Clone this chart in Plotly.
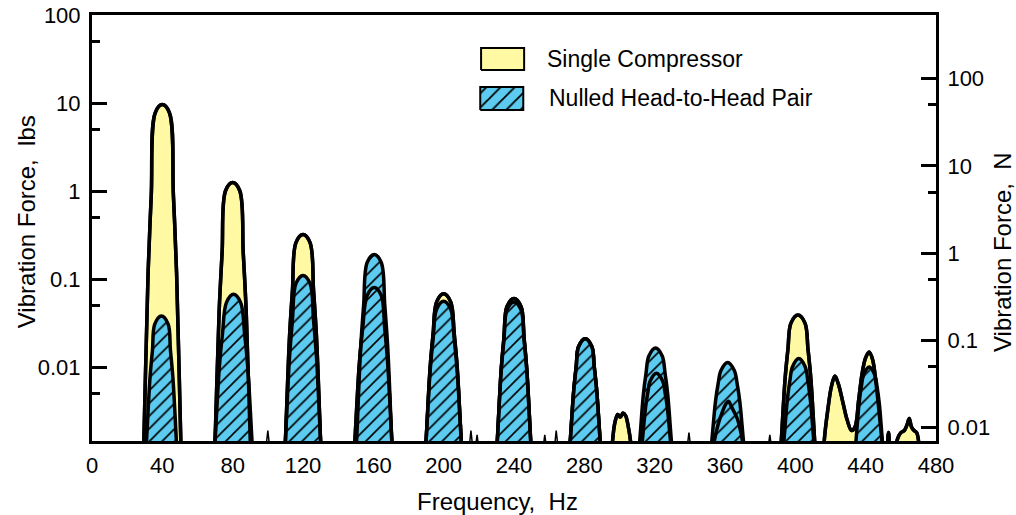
import plotly.graph_objects as go

# ---------------- data ----------------
# Single compressor (yellow), frequency in Hz, force in lbs
single_freq = [
    27.4, 29.5, 31.9, 33.7, 36, 40, 44, 46.3, 48.1, 50.5, 52.6,
    68, 70, 72.3, 74, 76, 80, 84, 86, 87.7, 90, 92,
    108, 110, 112.3, 114, 116, 120, 124, 126, 127.7, 130, 132,
    147.3, 149.5, 152.0, 153.9, 156.5, 160.5, 164.5, 166.5, 168.2, 170.5, 172.5,
    188, 190, 192.3, 194, 196, 200, 204, 206, 207.7, 210, 212,
    228.6, 230.5, 232.7, 234.3, 236, 240, 244, 245.7, 247.3, 249.5, 251.4,
    270.3, 272, 274, 275.4, 276.7, 280.5, 284.3, 285.6, 287, 289, 290.7,
    294, 296, 297.5, 299, 300.5, 302, 303.5, 305, 306.5, 308.5,
    311.4, 313, 314.84, 316.2, 317.4, 321, 324.6, 325.8, 327.16, 329, 330.6,
    350.5, 353, 356, 358.5, 360.5, 362, 363.5, 365.5, 367, 368.5, 370, 372.5,
    390.1, 392, 394.2, 395.8, 397.5, 401.5, 405.5, 407.2, 408.8, 411, 412.9,
    414.5, 416.5, 418.5, 420.5, 422.5, 424.5, 427, 429.5, 432, 434, 436, 438,
    440, 442, 444, 446, 448, 450, 451.5, 453, 454.5, 456.5, 458, 460, 462,
    463.5, 464.8, 466, 467.5, 469, 470.5, 472,
]
single_lbs = [
    4.3e-5, 0.00145, 0.1178, 0.891, 7.79, 9.6, 7.79, 0.891, 0.1178, 0.00145, 4.3e-5,
    9.7e-5, 0.00145, 0.0425, 0.2014, 1.014, 1.25, 1.014, 0.2014, 0.0425, 0.00145, 9.7e-5,
    1.67e-4, 0.00145, 0.0215, 0.0745, 0.2595, 0.32, 0.2595, 0.0745, 0.0215, 0.00145, 1.67e-4,
    2.9e-4, 0.00145, 0.01075, 0.0270, 0.0649, 0.08, 0.0649, 0.0270, 0.01075, 0.00145, 2.9e-4,
    3.1e-4, 0.00145, 0.00992, 0.0240, 0.0551, 0.068, 0.0551, 0.0240, 0.00992, 0.00145, 3.1e-4,
    3.3e-4, 0.00145, 0.0093, 0.0219, 0.0487, 0.06, 0.0487, 0.0219, 0.0093, 0.00145, 3.3e-4,
    5e-4, 0.00145, 0.0055, 0.0102, 0.0170, 0.021, 0.0170, 0.0102, 0.0055, 0.00145, 5e-4,
    1e-4, 0.0014, 0.0024, 0.0029, 0.0027, 0.0030, 0.0028, 0.0021, 0.0013, 1e-4,
    7.1e-4, 0.00145, 0.0035, 0.00527, 0.0069, 0.0085, 0.0069, 0.00527, 0.0035, 0.00145, 7.1e-4,
    1e-4, 0.0011, 0.0022, 0.0031, 0.0038, 0.0041, 0.0036, 0.0030, 0.0026, 0.0020, 0.0014, 1e-4,
    3.9e-4, 0.00145, 0.0075, 0.016, 0.0316, 0.039, 0.0316, 0.016, 0.0075, 0.00145, 3.9e-4,
    2e-4, 0.0015, 0.0033, 0.0060, 0.0079, 0.0064, 0.0040, 0.0025, 0.0019, 0.0021, 0.0042, 0.0085,
    0.0128, 0.0148, 0.0120, 0.0062, 0.0026, 0.0011, 0.0008, 0.0018, 0.0008, 0.0009, 0.0015, 0.0018, 0.0019,
    0.0022, 0.0026, 0.0021, 0.0019, 0.0018, 0.0012, 2e-4,
]

# Nulled head-to-head pair (blue hatched)
nulled_freq = [
    29.3, 31, 32.95, 34.4, 35.7, 39.5, 43.3, 44.6, 46.05, 48, 49.7,
    67.9, 70, 72.4, 74.2, 76.5, 80.5, 84.5, 86.8, 88.6, 91, 93.1,
    108, 110, 112.3, 114, 116, 120, 124, 126, 127.7, 130, 132,
    148.5, 150.5, 152.8, 154.5, 156.5, 160.5, 164.5, 166.5, 168.2, 170.5, 172.5,
    188, 190, 192.3, 194, 196, 200, 204, 206, 207.7, 210, 212,
    228.6, 230.5, 232.7, 234.3, 236, 240, 244, 245.7, 247.3, 249.5, 251.4,
    270.3, 272, 274, 275.4, 276.7, 280.5, 284.3, 285.6, 287, 289, 290.7,
    309.7, 311.5, 313.57, 315.1, 316.7, 320.5, 324.3, 325.9, 327.43, 329.5, 331.3,
    350.7, 352.5, 354.57, 356.1, 357.7, 361.5, 365.3, 366.9, 368.43, 370.5, 372.3,
    391.8, 393.5, 395.45, 396.9, 398.4, 402, 405.6, 407.1, 408.55, 410.5, 412.2,
    433, 434.5, 436.22, 437.5, 438.8, 442, 445.2, 446.5, 447.78, 449.5, 451,
]
nulled_lbs = [
    3.9e-4, 0.00145, 0.0074, 0.0157, 0.0308, 0.038, 0.0308, 0.0157, 0.0074, 0.00145, 3.9e-4,
    3.1e-4, 0.00145, 0.00984, 0.0238, 0.0543, 0.067, 0.0543, 0.0238, 0.00984, 0.00145, 3.1e-4,
    2.55e-4, 0.00145, 0.0126, 0.0341, 0.0892, 0.11, 0.0892, 0.0341, 0.0126, 0.00145, 2.55e-4,
    2.05e-4, 0.00145, 0.0166, 0.0509, 0.154, 0.19, 0.154, 0.0509, 0.0166, 0.00145, 2.05e-4,
    3.35e-4, 0.00145, 0.009, 0.02087, 0.0454, 0.056, 0.0454, 0.02087, 0.009, 0.00145, 3.35e-4,
    3.4e-4, 0.00145, 0.00892, 0.0206, 0.0446, 0.055, 0.0446, 0.0206, 0.00892, 0.00145, 3.4e-4,
    5e-4, 0.00145, 0.0055, 0.0102, 0.0170, 0.021, 0.0170, 0.0102, 0.0055, 0.00145, 5e-4,
    5.5e-4, 0.00145, 0.00488, 0.00855, 0.01338, 0.0165, 0.01338, 0.00855, 0.00488, 0.00145, 5.5e-4,
    6.4e-4, 0.00145, 0.00404, 0.00649, 0.00916, 0.0113, 0.00916, 0.00649, 0.00404, 0.00145, 6.4e-4,
    6.1e-4, 0.00145, 0.00425, 0.00698, 0.0101, 0.0125, 0.0101, 0.00698, 0.00425, 0.00145, 6.1e-4,
    6.7e-4, 0.00145, 0.0038, 0.00593, 0.0081, 0.0100, 0.0081, 0.00593, 0.0038, 0.00145, 6.7e-4,
]

# tiny noise spikes (white), separated by gaps
spike_freq = [98.7, 100, 101.3, None, 214.3, 215.5, 216.8, None, 217.8, 219, 220.2, None,
              256.3, 257.5, 258.8, None, 262.8, 264, 265.3, None, 338.2, 339.5, 340.8, None,
              384.2, 385.5, 386.8]
spike_lbs = [0.0011, 0.0019, 0.0011, None, 0.0011, 0.0019, 0.0011, None, 0.0011, 0.0017, 0.0011, None,
             0.0011, 0.0017, 0.0011, None, 0.0011, 0.0019, 0.0011, None, 0.0011, 0.0018, 0.0011, None,
             0.0011, 0.0017, 0.0011]

x_ticks = [0, 40, 80, 120, 160, 200, 240, 280, 320, 360, 400, 440, 480]
lbs_ticks = [0.01, 0.1, 1, 10, 100]
lbs_minor = [0.005, 0.05, 0.5, 5, 50]
n_ticks = [0.01, 0.1, 1, 10, 100]
n_minor = [0.05, 0.5, 5, 50]
tick_text = ["0.01", "0.1", "1", "10", "100"]
series_names = ["Single Compressor", "Nulled Head-to-Head Pair"]

YELLOW = "#FFF9A3"
BLUE = "#5CCBEF"
FONT = "Liberation Sans, Arial, sans-serif"
LW = 3.5
SPL = dict(color="black", width=LW, shape="spline", smoothing=1.0)

fig = go.Figure()

# fills
fig.add_trace(go.Scatter(x=single_freq, y=single_lbs, mode="lines", fill="toself",
                         fillcolor=YELLOW, line=SPL, showlegend=False, hoverinfo="skip"))
fig.add_trace(go.Scatter(x=spike_freq, y=spike_lbs, mode="lines", fill="toself",
                         fillcolor="white", line=dict(color="black", width=1.5),
                         showlegend=False, hoverinfo="skip"))
fig.add_trace(go.Scatter(x=nulled_freq, y=nulled_lbs, mode="lines", fill="toself",
                         fillcolor=BLUE,
                         fillpattern=dict(shape="/", fgcolor="black", bgcolor=BLUE, size=9,
                                          solidity=0.18, fillmode="replace"),
                         line=SPL, showlegend=False, hoverinfo="skip"))
# yellow outline on top (visible where nulled exceeds single)
fig.add_trace(go.Scatter(x=single_freq, y=single_lbs, mode="lines", line=SPL,
                         showlegend=False, hoverinfo="skip"))
# right axis carrier
fig.add_trace(go.Scatter(x=[None], y=[None], yaxis="y2", showlegend=False))

# legend swatches on an overlay unit axis
fig.add_trace(go.Scatter(x=[0.461, 0.512, 0.512, 0.461, 0.461], y=[0.871, 0.871, 0.9225, 0.9225, 0.871],
                         xaxis="x3", yaxis="y3", mode="lines", fill="toself", fillcolor=YELLOW,
                         line=dict(color="black", width=2), showlegend=False, hoverinfo="skip"))
fig.add_trace(go.Scatter(x=[0.460, 0.511, 0.511, 0.460, 0.460], y=[0.777, 0.777, 0.831, 0.831, 0.777],
                         xaxis="x3", yaxis="y3", mode="lines", fill="toself", fillcolor=BLUE,
                         fillpattern=dict(shape="/", fgcolor="black", bgcolor=BLUE, size=10,
                                          solidity=0.18, fillmode="replace"),
                         line=dict(color="black", width=2), showlegend=False, hoverinfo="skip"))

ann = [
    dict(text=series_names[0], x=0.537, y=0.897, xanchor="left", yanchor="middle", size=23),
    dict(text=series_names[1], x=0.539, y=0.805, xanchor="left", yanchor="middle", size=23),
    dict(text="Frequency,\u00a0\u00a0Hz", x=0.481, y=-0.141, xanchor="center", yanchor="middle", size=24),
    dict(text="Vibration Force,\u00a0\u00a0lbs", x=-0.078, y=0.514, xanchor="center", yanchor="middle",
         textangle=-90, size=24),
    dict(text="Vibration Force,\u00a0\u00a0N", x=1.0794, y=0.4437, xanchor="center", yanchor="middle",
         textangle=-90, size=24),
]
for a in ann:
    s = a.pop("size")
    a.update(xref="paper", yref="paper", showarrow=False, font=dict(family=FONT, size=s, color="black"))

tickfont = dict(family=FONT, size=22, color="black")
fig.update_layout(
    width=1016, height=515,
    margin=dict(l=92, r=80, t=15, b=74, autoexpand=False),
    paper_bgcolor="white", plot_bgcolor="white",
    showlegend=False,
    annotations=ann,
    xaxis=dict(range=[0, 480], tickvals=x_ticks, ticks="", showline=True, linewidth=3, linecolor="black",
               mirror=True, showgrid=False, zeroline=False, tickfont=tickfont, ticklabelstandoff=3,
               automargin=False),
    yaxis=dict(type="log", range=[-2.84, 2], tickvals=lbs_ticks, ticktext=tick_text,
               ticks="inside", ticklen=15, tickwidth=3, tickcolor="black",
               minor=dict(tickvals=lbs_minor, ticks="inside", ticklen=8, tickwidth=3, tickcolor="black"),
               showline=True, linewidth=3, linecolor="black", showgrid=False, zeroline=False,
               tickfont=tickfont, ticklabelstandoff=4, automargin=False),
    yaxis2=dict(type="log", range=[-2.152, 2.730], overlaying="y", side="right", tickvals=n_ticks,
                ticktext=tick_text,
                ticks="inside", ticklen=15, tickwidth=3, tickcolor="black",
                minor=dict(tickvals=n_minor, ticks="inside", ticklen=8, tickwidth=3, tickcolor="black"),
                showline=True, linewidth=3, linecolor="black", showgrid=False, zeroline=False,
                tickfont=tickfont, ticklabelstandoff=4, automargin=False),
    xaxis3=dict(range=[0, 1], overlaying="x", visible=False, fixedrange=True, automargin=False),
    yaxis3=dict(range=[0, 1], overlaying="y", visible=False, fixedrange=True, automargin=False),
)

fig.write_html("out.html")
